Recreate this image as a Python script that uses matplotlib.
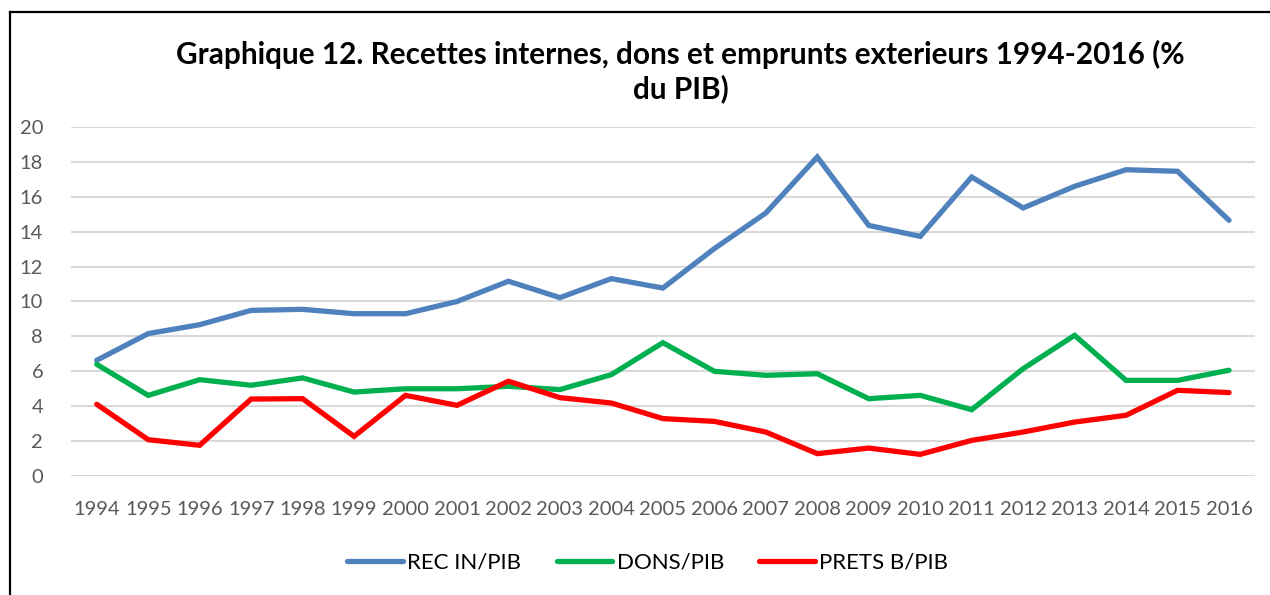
import matplotlib
matplotlib.use("Agg")
import matplotlib.pyplot as plt
from matplotlib.lines import Line2D

plt.rcParams['font.family'] = ['Lato', 'DejaVu Sans']

years = list(range(1994, 2017))
rec_in = [6.63, 8.16, 8.67, 9.49, 9.55, 9.3, 9.3, 10.0, 11.16, 10.22, 11.31, 10.77,
          13.03, 15.07, 18.28, 14.36, 13.73, 17.13, 15.36, 16.6, 17.55, 17.46, 14.65]
dons = [6.4, 4.62, 5.52, 5.2, 5.62, 4.81, 5.0, 5.0, 5.14, 4.95, 5.81, 7.64,
        6.0, 5.77, 5.86, 4.43, 4.62, 3.8, 6.15, 8.06, 5.48, 5.48, 6.06]
prets = [4.11, 2.08, 1.76, 4.41, 4.43, 2.27, 4.62, 4.05, 5.43, 4.49, 4.18, 3.29,
         3.13, 2.52, 1.28, 1.6, 1.24, 2.04, 2.52, 3.09, 3.48, 4.91, 4.78]
series_names = ["REC IN/PIB", "DONS/PIB", "PRETS B/PIB"]
colors = ["#4f81bd", "#00b050", "#ff0000"]
title = "Graphique 12. Recettes internes, dons et emprunts exterieurs 1994-2016 (%\ndu PIB)"

fig = plt.figure(figsize=(12.7, 5.95), dpi=100)
ax = fig.add_axes([0.0559, 0.2, 0.9321, 0.5866])

# border of the chart area (only left and top edges are visible)
fig.add_artist(Line2D([0.0079, 0.0079], [0.0, 0.9790], color="black", lw=1.6))
fig.add_artist(Line2D([0.0079, 1.0], [0.9790, 0.9790], color="black", lw=1.6))

handles = []
for vals, name, c in zip([rec_in, dons, prets], series_names, colors):
    h, = ax.plot(years, vals, color=c, lw=3.8, solid_joinstyle="miter", solid_capstyle="round", label=name)
    handles.append(h)

ax.set_xlim(1993.5, 2016.5)
ax.set_ylim(0, 20)
ax.set_yticks(range(0, 21, 2))
ax.set_xticks(years)
ax.set_xticklabels([str(y) for y in years])
ax.grid(axis="y", color="#d9d9d9", lw=1.5)
ax.set_axisbelow(True)
for s in ax.spines.values():
    s.set_visible(False)
ax.tick_params(axis="both", length=0, labelsize=14.5, labelcolor="#595959")
ax.tick_params(axis="y", pad=20)
ax.tick_params(axis="x", pad=18)

fig.text(0.536, 0.880, title, ha="center", va="center", fontsize=21.4,
         fontweight="bold", linespacing=1.2)

fig.legend(handles=handles, loc="center", bbox_to_anchor=(0.510, 0.054), ncol=3,
           frameon=False, fontsize=16, handlelength=2.5, handletextpad=0.2,
           columnspacing=1.6)

fig.savefig("out.png", dpi=100)
